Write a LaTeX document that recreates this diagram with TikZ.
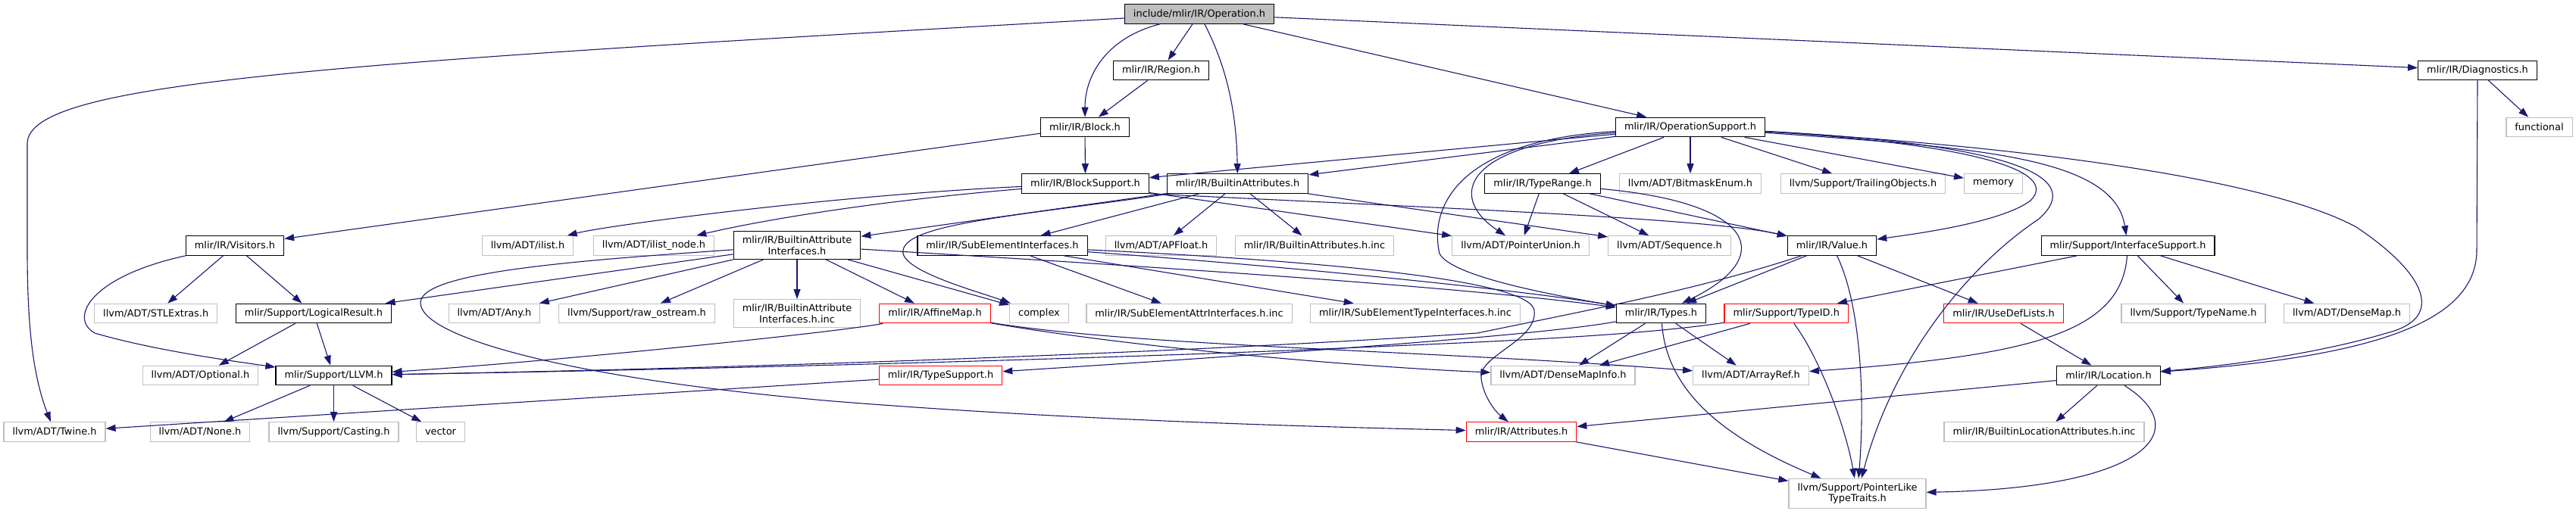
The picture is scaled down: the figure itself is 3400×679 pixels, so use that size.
\documentclass[tikz,border=0pt]{standalone}
\usepackage{fontspec}
\setmainfont{DejaVu Sans}
\usetikzlibrary{arrows.meta}
\definecolor{edgeblue}{HTML}{191970}
\definecolor{extgray}{HTML}{BFBFBF}
\definecolor{rootgray}{HTML}{BFBFBF}
\tikzset{
  hfile/.style = {rectangle, line width=1.2pt, inner xsep=11.5pt, inner ysep=6pt,
                  minimum height=25.5pt, align=center,
                  font=\fontsize{12.9}{14.7}\selectfont},
  hdoc/.style  = {hfile, draw=black},
  hext/.style  = {hfile, draw=extgray},
  hcut/.style  = {hfile, draw=red},
  hroot/.style = {hfile, draw=black, fill=rootgray},
  incl/.style  = {-{Triangle[length=13pt,width=9pt]}, line width=1.1pt, draw=edgeblue},
}

\begin{document}
\begin{tikzpicture}[x=1pt, y=-1pt]
  \useasboundingbox (0,0) rectangle (3400,679);

  % rank 0 - 3
  \node[hroot] (op)       at (1583,18.5)   {include/mlir/IR/Operation.h};
  \node[hdoc]  (region)   at (1532.5,93)   {mlir/IR/Region.h};
  \node[hdoc]  (diag)     at (3270,93)     {mlir/IR/Diagnostics.h};
  \node[hdoc]  (block)    at (1432,168)    {mlir/IR/Block.h};
  \node[hdoc]  (opsup)    at (2231,168)    {mlir/IR/OperationSupport.h};
  \node[hext]  (func)     at (3351.5,168)  {functional};
  \node[hdoc]  (blksup)   at (1432.5,242.5) {mlir/IR/BlockSupport.h};
  \node[hdoc]  (battr)    at (1633.5,242.5) {mlir/IR/BuiltinAttributes.h};
  \node[hdoc]  (trange)   at (2036,242.5)  {mlir/IR/TypeRange.h};
  \node[hext]  (bitmask)  at (2231,242.5)  {llvm/ADT/BitmaskEnum.h};
  \node[hext]  (trail)    at (2459,242.5)  {llvm/Support/TrailingObjects.h};
  \node[hext]  (memory)   at (2631,242.5)  {memory};

  % rank 4
  \node[hdoc]  (visitors) at (310,324.5)   {mlir/IR/Visitors.h};
  \node[hext]  (ilist)    at (696.5,324.5) {llvm/ADT/ilist.h};
  \node[hext]  (ilistnode) at (863,324.5)  {llvm/ADT/ilist\_node.h};
  \node[hdoc]  (bai)      at (1052,324)    {mlir/IR/BuiltinAttribute\\Interfaces.h};
  \node[hdoc]  (subel)    at (1323,324.5)  {mlir/IR/SubElementInterfaces.h};
  \node[hext]  (apfloat)  at (1532.5,324.5) {llvm/ADT/APFloat.h};
  \node[hext]  (battrinc) at (1735,324.5)  {mlir/IR/BuiltinAttributes.h.inc};
  \node[hext]  (punion)   at (2007,324.5)  {llvm/ADT/PointerUnion.h};
  \node[hext]  (seq)      at (2203.5,324.5) {llvm/ADT/Sequence.h};
  \node[hdoc]  (value)    at (2418,324.5)  {mlir/IR/Value.h};
  \node[hdoc]  (ifsup)    at (2808.5,324.5) {mlir/Support/InterfaceSupport.h};

  % rank 5
  \node[hext]  (stlext)   at (205.7,414)   {llvm/ADT/STLExtras.h};
  \node[hdoc]  (logres)   at (414,414)     {mlir/Support/LogicalResult.h};
  \node[hext]  (any)      at (652.5,414)   {llvm/ADT/Any.h};
  \node[hext]  (rawos)    at (840.5,414)   {llvm/Support/raw\_ostream.h};
  \node[hext]  (baiinc)   at (1052,414)    {mlir/IR/BuiltinAttribute\\Interfaces.h.inc};
  \node[hcut]  (affine)   at (1234,414)    {mlir/IR/AffineMap.h};
  \node[hext]  (complex)  at (1371.5,414)  {complex};
  \node[hext]  (subattrinc) at (1569.5,414) {mlir/IR/SubElementAttrInterfaces.h.inc};
  \node[hext]  (subtypeinc) at (1868,414)  {mlir/IR/SubElementTypeInterfaces.h.inc};
  \node[hdoc]  (types)    at (2192.5,414)  {mlir/IR/Types.h};
  \node[hcut]  (typeid)   at (2357.7,414)  {mlir/Support/TypeID.h};
  \node[hcut]  (usedef)   at (2644.5,414)  {mlir/IR/UseDefLists.h};
  \node[hext]  (typename) at (2895,414)    {llvm/Support/TypeName.h};
  \node[hext]  (densemap) at (3097.5,414)  {llvm/ADT/DenseMap.h};

  % rank 6 - 8
  \node[hext]  (optional) at (264.5,496)   {llvm/ADT/Optional.h};
  \node[hdoc]  (llvm)     at (440.5,496)   {mlir/Support/LLVM.h};
  \node[hcut]  (typesup)  at (1241.5,496)  {mlir/IR/TypeSupport.h};
  \node[hext]  (dmapinfo) at (2063,496)    {llvm/ADT/DenseMapInfo.h};
  \node[hext]  (arrayref) at (2311,496)    {llvm/ADT/ArrayRef.h};
  \node[hdoc]  (location) at (2783,496)    {mlir/IR/Location.h};
  \node[hext]  (twine)    at (72,570.5)    {llvm/ADT/Twine.h};
  \node[hext]  (adtnone)  at (264,570.5)   {llvm/ADT/None.h};
  \node[hext]  (casting)  at (440.5,570.5) {llvm/Support/Casting.h};
  \node[hext]  (vector)   at (581.5,570.5) {vector};
  \node[hcut]  (attrs)    at (2008,570.5)  {mlir/IR/Attributes.h};
  \node[hext]  (blocattr) at (2698,570.5)  {mlir/IR/BuiltinLocationAttributes.h.inc};
  \node[hext]  (pltt)     at (2451.5,652)  {llvm/Support/PointerLike\\TypeTraits.h};

  % Operation.h, Region.h, Block.h
  \draw[incl] (op) .. controls (400,85) and (36,110) .. (36,190) -- (36,330)
              .. controls (36,440) and (45,500) .. (twine);
  \draw[incl] (op) .. controls (1460,50) and (1432,100) .. (block);
  \draw[incl] (op) -- (region);
  \draw[incl] (op) .. controls (1620,90) and (1632,150) .. (battr);
  \draw[incl] (op) -- (opsup);
  \draw[incl] (op) -- (diag);
  \draw[incl] (region) -- (block);
  \draw[incl] (block) -- (blksup);
  \draw[incl] (block) -- (visitors);

  % BlockSupport.h, Visitors.h
  \draw[incl] (blksup) .. controls (1100,258) and (800,298) .. (ilist);
  \draw[incl] (blksup) .. controls (1150,266) and (1000,292) .. (ilistnode);
  \draw[incl] (blksup) -- (punion);
  \draw[incl] (blksup.south east) .. controls (1900,275) and (2250,288) .. (value);
  \draw[incl] (visitors) -- (stlext);
  \draw[incl] (visitors) -- (logres);
  \draw[incl] (visitors.south west) .. controls (120,365) and (90,420) .. (125,440)
              .. controls (200,462) and (300,476) .. (llvm);
  \draw[incl] (logres) -- (optional);
  \draw[incl] (logres) -- (llvm);
  \draw[incl] (llvm) -- (adtnone);
  \draw[incl] (llvm) -- (casting);
  \draw[incl] (llvm) -- (vector);

  % BuiltinAttributes.h and its interfaces
  \draw[incl] (battr) -- (bai);
  \draw[incl] (battr) -- (subel);
  \draw[incl] (battr) -- (apfloat);
  \draw[incl] (battr) -- (battrinc);
  \draw[incl] (battr) -- (seq);
  \draw[incl] (battr) .. controls (1350,285) and (1185,295) .. (1192,335)
              .. controls (1198,360) and (1290,385) .. (complex);
  \draw[incl] (bai) -- (any);
  \draw[incl] (bai) -- (rawos);
  \draw[incl] (bai) -- (baiinc);
  \draw[incl] (bai) -- (affine);
  \draw[incl] (bai) -- (complex);
  \draw[incl] (bai) -- (logres);
  \draw[incl] (bai) .. controls (1400,345) and (1900,375) .. (types);
  \draw[incl] (bai) .. controls (750,345) and (555,360) .. (555,400)
              .. controls (555,445) and (750,500) .. (1100,530)
              .. controls (1450,558) and (1800,565) .. (attrs);
  \draw[incl] (subel) -- (subattrinc);
  \draw[incl] (subel) -- (subtypeinc);
  \draw[incl] (subel) .. controls (1700,352) and (2000,382) .. (types);
  \draw[incl] (subel) .. controls (1750,345) and (2020,370) .. (2025,410)
              .. controls (2030,450) and (1950,470) .. (1955,500)
              .. controls (1958,525) and (1975,545) .. (attrs);
  \draw[incl] (affine) .. controls (1100,440) and (700,480) .. (llvm);
  \draw[incl] (affine) .. controls (1500,460) and (1800,485) .. (dmapinfo);
  \draw[incl] (affine) .. controls (1500,458) and (1900,463) .. (arrayref);

  % OperationSupport.h
  \draw[incl] (opsup) -- (blksup);
  \draw[incl] (opsup) -- (battr);
  \draw[incl] (opsup) -- (trange);
  \draw[incl] (opsup) -- (bitmask);
  \draw[incl] (opsup) -- (trail);
  \draw[incl] (opsup) -- (memory);
  \draw[incl] (opsup) .. controls (1930,190) and (1910,260) .. (punion);
  \draw[incl] (opsup) .. controls (1930,185) and (1885,270) .. (1900,335)
              .. controls (1915,365) and (2050,390) .. (types);
  \draw[incl] (opsup) .. controls (2600,190) and (2720,225) .. (2680,265)
              .. controls (2640,295) and (2520,310) .. (value);
  \draw[incl] (opsup) .. controls (2640,190) and (2760,230) .. (2690,290)
              .. controls (2600,350) and (2500,470) .. (pltt);
  \draw[incl] (opsup) .. controls (2600,195) and (2790,205) .. (ifsup);
  \draw[incl] (opsup) .. controls (2700,195) and (3000,240) .. (3110,300)
              .. controls (3200,360) and (3230,420) .. (3150,440)
              .. controls (3050,470) and (2920,485) .. (location);
  \draw[incl] (trange) -- (punion);
  \draw[incl] (trange) -- (seq);
  \draw[incl] (trange) .. controls (2320,268) and (2345,340) .. (types);
  \draw[incl] (trange) -- (value);

  % Value.h, Types.h, TypeID.h
  \draw[incl] (value) -- (types);
  \draw[incl] (value) .. controls (2250,380) and (2120,405) .. (1950,440)
              .. controls (1500,470) and (900,488) .. (llvm);
  \draw[incl] (value) -- (usedef);
  \draw[incl] (value) .. controls (2455,400) and (2462,520) .. (pltt);
  \draw[incl] (types) .. controls (2050,440) and (1800,460) .. (typesup);
  \draw[incl] (types) -- (dmapinfo);
  \draw[incl] (types) -- (arrayref);
  \draw[incl] (types) .. controls (2200,520) and (2280,580) .. (pltt);
  \draw[incl] (typesup) -- (twine);
  \draw[incl] (typeid) -- (dmapinfo);
  \draw[incl] (typeid) .. controls (2150,445) and (1950,452) .. (1700,463)
              .. controls (1300,479) and (800,490) .. (llvm);
  \draw[incl] (typeid) .. controls (2400,470) and (2435,560) .. (pltt);

  % InterfaceSupport.h, Location.h, Diagnostics.h
  \draw[incl] (ifsup) -- (typeid);
  \draw[incl] (ifsup) .. controls (2800,440) and (2680,470) .. (arrayref);
  \draw[incl] (ifsup) -- (typename);
  \draw[incl] (ifsup) -- (densemap);
  \draw[incl] (usedef) -- (location);
  \draw[incl] (location) -- (attrs);
  \draw[incl] (location) -- (blocattr);
  \draw[incl] (location) .. controls (2900,570) and (2830,645) .. (pltt);
  \draw[incl] (attrs) -- (pltt);
  \draw[incl] (diag) -- (func);
  \draw[incl] (diag.south) -- (3269,330) .. controls (3269,420) and (3150,470) .. (location);

\end{tikzpicture}
\end{document}
